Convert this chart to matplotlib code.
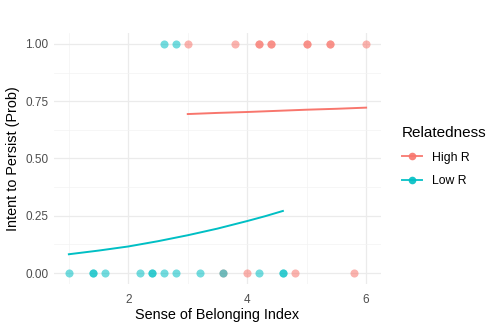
import matplotlib.pyplot as plt
from matplotlib.lines import Line2D
from matplotlib.ticker import MultipleLocator

# ── Data ──────────────────────────────────────────────────────────────────────
HIGH_COLOR = "#F8766D"
LOW_COLOR = "#00BFC4"

# observed outcomes (persist = 1 / 0)
high_x = [3.0, 3.8, 4.2, 4.2, 4.4, 4.4, 5.0, 5.0, 5.4, 5.4, 6.0,
          3.6, 4.0, 4.8, 5.8]
high_y = [1, 1, 1, 1, 1, 1, 1, 1, 1, 1, 1,
          0, 0, 0, 0]
low_x = [2.6, 2.8,
         1.0, 1.4, 1.4, 1.6, 2.2, 2.4, 2.4, 2.6, 2.8, 3.2, 3.6, 4.2, 4.6, 4.6]
low_y = [1, 1,
         0, 0, 0, 0, 0, 0, 0, 0, 0, 0, 0, 0, 0, 0]

# fitted probability curves
high_fit_x = [3.0, 3.5, 4.0, 4.5, 5.0, 5.5, 6.0]
high_fit_y = [0.694, 0.699, 0.703, 0.708, 0.713, 0.717, 0.722]
low_fit_x = [1.0, 1.5, 2.0, 2.5, 3.0, 3.5, 4.0, 4.3, 4.6]
low_fit_y = [0.082, 0.098, 0.116, 0.139, 0.165, 0.194, 0.227, 0.248, 0.271]

# ── Plot ──────────────────────────────────────────────────────────────────────
plt.rcParams["font.family"] = ["Liberation Sans", "DejaVu Sans"]

fig = plt.figure(figsize=(4.99, 3.29), dpi=100)
ax = fig.add_axes([0.1082, 0.1353, 0.6553, 0.7659])

ax.scatter(high_x, high_y, s=34, color=HIGH_COLOR, alpha=0.55, lw=0, zorder=3)
ax.scatter(low_x, low_y, s=34, color=LOW_COLOR, alpha=0.55, lw=0, zorder=3)
ax.plot(high_fit_x, high_fit_y, color=HIGH_COLOR, lw=1.4, zorder=4)
ax.plot(low_fit_x, low_fit_y, color=LOW_COLOR, lw=1.4, zorder=4)

ax.set_xlim(0.75, 6.25)
ax.set_ylim(-0.05, 1.05)
ax.xaxis.set_major_locator(MultipleLocator(2))
ax.xaxis.set_minor_locator(MultipleLocator(1))
ax.yaxis.set_major_locator(MultipleLocator(0.25))
ax.yaxis.set_minor_locator(MultipleLocator(0.125))
ax.yaxis.set_major_formatter(lambda v, p: f"{v:.2f}")

ax.grid(which="major", color="#ebebeb", lw=0.9)
ax.grid(which="minor", color="#f3f3f3", lw=0.5)
ax.set_axisbelow(True)
for s in ax.spines.values():
    s.set_visible(False)
ax.tick_params(which="both", length=0, labelsize=8.5, labelcolor="#4d4d4d")
ax.tick_params(axis="x", pad=7)
ax.tick_params(axis="y", pad=4)

ax.set_xlabel("Sense of Belonging Index", fontsize=10.4, color="black", labelpad=1)
ax.set_ylabel("Intent to Persist (Prob)", fontsize=10.4, color="black", labelpad=4)

handles = [
    Line2D([], [], color=HIGH_COLOR, lw=1.4, marker="o", markersize=5.5,
           markerfacecolor=HIGH_COLOR, markeredgewidth=0, alpha=0.9),
    Line2D([], [], color=LOW_COLOR, lw=1.4, marker="o", markersize=5.5,
           markerfacecolor=LOW_COLOR, markeredgewidth=0, alpha=0.9),
]
leg = fig.legend(handles, ["High R", "Low R"], title="Relatedness",
                 loc="upper left", bbox_to_anchor=(0.783, 0.65), frameon=False,
                 fontsize=8.8, title_fontsize=11, handlelength=1.7,
                 labelspacing=0.95, alignment="left")

fig.savefig("out.png", dpi=100)
